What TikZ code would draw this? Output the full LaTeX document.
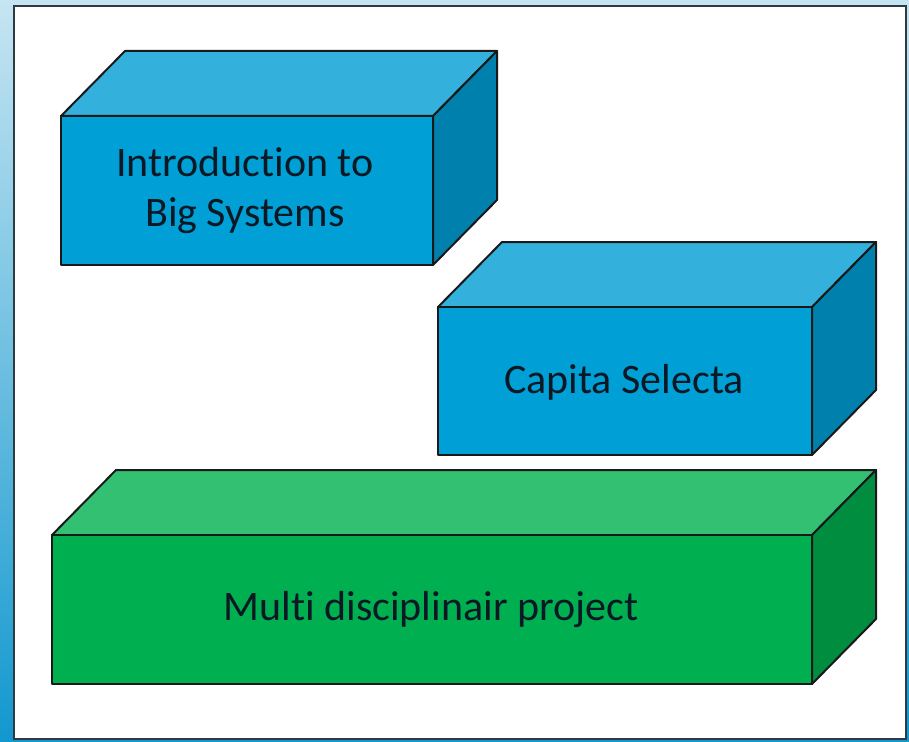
\documentclass[tikz,border=0pt]{standalone}
\usepackage{fontspec}
\setmainfont[Ligatures=NoCommon]{Carlito}
\definecolor{frontblue}{RGB}{0,160,214}
\definecolor{topblue}{RGB}{51,177,220}
\definecolor{sideblue}{RGB}{0,128,172}
\definecolor{frontgreen}{RGB}{0,176,80}
\definecolor{topgreen}{RGB}{51,192,115}
\definecolor{sidegreen}{RGB}{0,141,64}
\definecolor{framecol}{RGB}{45,60,66}
\definecolor{labelcol}{RGB}{12,24,36}
\definecolor{bgtop}{RGB}{198,229,242}
\definecolor{bgbottom}{RGB}{18,152,207}
\tikzset{
  face/.style={draw=black!90, line width=2pt, line join=round},
  boxlabel/.style={align=center, text=labelcol, font=\fontsize{42}{50}\selectfont}
}
\begin{document}
\begin{tikzpicture}[x=1pt,y=-1pt]
                \useasboundingbox (0,0) rectangle (909,741);
                \shade[top color=bgtop, bottom color=bgbottom] (0,0) rectangle (909,741);
                \draw[framecol, line width=2pt, fill=white] (14,6) rectangle (906,739);
                % Introduction to Big Systems
                \coordinate (I) at (61,116);
                \coordinate (J) at (433,265);
                \fill[topblue, face] (I) -- ++(64,-65) -- (497,51) -- (433,116) -- cycle;
                \fill[sideblue, face] (433,116) -- (497,51) -- (497,200) -- (J) -- cycle;
                \fill[frontblue, face] (I) rectangle (J);
                \node[boxlabel] (intro) at (245,191) {Introduction to\\Big Systems};
                % Capita Selecta
                \coordinate (C) at (438,307);
                \coordinate (D) at (812,455);
                \fill[topblue, face] (C) -- ++(64,-65) -- (876,242) -- (812,307) -- cycle;
                \fill[sideblue, face] (812,307) -- (876,242) -- (876,390) -- (D) -- cycle;
                \fill[frontblue, face] (C) rectangle (D);
                \node[boxlabel] (capita) at (624,382) {Capita Selecta};
                % Multi disciplinair project
                \coordinate (M) at (52,535);
                \coordinate (N) at (812,684);
                \fill[topgreen, face] (M) -- ++(64,-65) -- (876,470) -- (812,535) -- cycle;
                \fill[sidegreen, face] (812,535) -- (876,470) -- (876,619) -- (N) -- cycle;
                \fill[frontgreen, face] (M) rectangle (N);
                \node[boxlabel] (project) at (431,610) {Multi disciplinair project};
            \end{tikzpicture}
\end{document}
